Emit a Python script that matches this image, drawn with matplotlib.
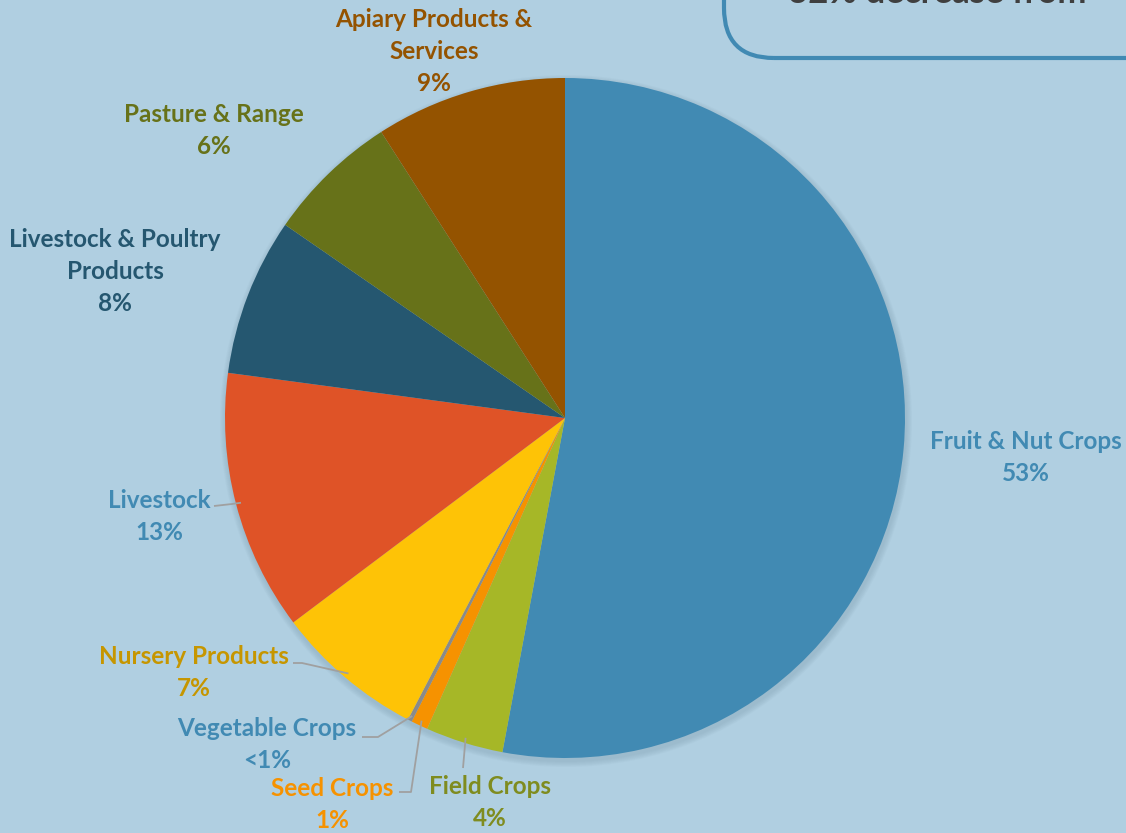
import matplotlib.pyplot as plt
import numpy as np
from matplotlib.patches import FancyBboxPatch, Circle

plt.rcParams['font.family'] = ['Lato', 'DejaVu Sans']

# slice data (percent of total), clockwise from 12 o'clock
names = ['Fruit & Nut Crops', 'Field Crops', 'Seed Crops', 'Vegetable Crops',
         'Nursery Products', 'Livestock', 'Livestock & Poultry\nProducts',
         'Pasture & Range', 'Apiary Products &\nServices']
shares = [53.0, 3.7, 0.8, 0.2, 7.1, 12.4, 7.5, 6.3, 9.1]
pct_text = ['53%', '4%', '1%', '<1%', '7%', '13%', '8%', '6%', '9%']
slice_colors = ['#418AB3', '#A6B727', '#F69200', '#8A8A8A', '#FEC306',
                '#DF5327', '#255770', '#677219', '#945300']
text_colors = ['#418AB3', '#7F8C1F', '#F69200', '#418AB3', '#C69600',
               '#418AB3', '#255770', '#677219', '#945300']

bg = '#B0CFE1'
W, H = 1126, 833
fig = plt.figure(figsize=(11.26, 8.33), dpi=100, facecolor=bg)
ax = fig.add_axes([0, 0, 1, 1])
ax.set_facecolor(bg)

cx, cy, R = 565, H - 418, 340

# soft shadow around the pie
for k in range(6):
    ax.add_patch(Circle((cx + 1, cy - 3), R + 6 - k, color='#6f8ea0',
                        alpha=0.05, lw=0, zorder=1))

wedges, _ = ax.pie(shares, colors=slice_colors, startangle=90, counterclock=False,
                   radius=R, center=(cx, cy), frame=True,
                   wedgeprops=dict(linewidth=0, zorder=2))
ax.set_xlim(0, W)
ax.set_ylim(0, H)
ax.set_aspect('equal')
ax.axis('off')

# label anchors (pixel coords, y from top): text center x, first line y
label_pos = [(1026, 441), (490, 786), (332, 788), (267, 728), (194, 657),
             (159, 500), (115, 239), (214, 114), (434, 19)]
fs = 17.5
for i, (nm, pt) in enumerate(zip(names, pct_text)):
    x, y = label_pos[i]
    lines = nm.split('\n') + [pt]
    for j, ln in enumerate(lines):
        ax.text(x, H - (y + j * 32), ln, ha='center', va='center',
                fontsize=fs, fontweight='bold', color=text_colors[i], zorder=5)

# leader lines: from label side to slice edge midpoint
def edge_point(i, frac=1.0):
    w = wedges[i]
    a = np.deg2rad((w.theta1 + w.theta2) / 2)
    return cx + R * frac * np.cos(a), cy + R * frac * np.sin(a)

lc = '#A0A0A0'
leaders = {
    5: [(214, 506), (232, 504)],
    4: [(293, 663), (302, 663)],
    3: [(362, 737), (378, 737)],
    2: [(399, 792), (411, 792)],
    1: [(463, 768), (463, 768)],
}
for i, pts in leaders.items():
    ex, ey = edge_point(i, 0.985)
    xs = [p[0] for p in pts] + [ex]
    ys = [H - p[1] for p in pts] + [ey]
    ax.plot(xs, ys, color=lc, lw=1.3, zorder=3, solid_capstyle='butt')

# rounded callout box at the top right, mostly off canvas
box = FancyBboxPatch((724, H - 58), 600, 200, boxstyle='round,pad=0,rounding_size=50',
                     fill=False, edgecolor='#418AB3', lw=3, zorder=4)
ax.add_patch(box)
ax.text(788, H - 3, '32% decrease from', ha='left', va='baseline', fontsize=25,
        fontweight='bold', color='#3F3F3F', zorder=5)

fig.savefig('out.png', dpi=100, facecolor=bg)
